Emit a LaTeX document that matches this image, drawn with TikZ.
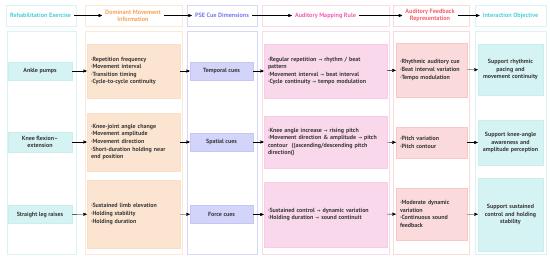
\documentclass[tikz,border=0pt]{standalone}
\usepackage{fontspec}
\setmainfont{PT Sans}
\newfontfamily\arrowfont{DejaVu Sans}
\usepackage{xcolor}
\usepackage{tikz}
\usetikzlibrary{arrows,positioning}

\definecolor{txtgray}{HTML}{3A3A3A}
\definecolor{cyanT}{HTML}{4ECFD7}
\definecolor{cyanF}{HTML}{D6F3F3}
\definecolor{cyanD}{HTML}{C8EEEF}
\definecolor{orangeT}{HTML}{F5A45C}
\definecolor{orangeF}{HTML}{FCE5D0}
\definecolor{orangeD}{HTML}{F9DEC8}
\definecolor{blueT}{HTML}{7C7CF0}
\definecolor{blueF}{HTML}{D3D4F9}
\definecolor{blueD}{HTML}{C4C6F6}
\definecolor{pinkT}{HTML}{F062B4}
\definecolor{pinkF}{HTML}{FAD8EB}
\definecolor{pinkD}{HTML}{F6CDE4}
\definecolor{redT}{HTML}{F2636E}
\definecolor{redF}{HTML}{FADADB}
\definecolor{redD}{HTML}{F6C8CA}

\newcommand{\ra}{{\arrowfont\fontsize{4.5}{6}\selectfont →}}

\begin{document}
\begin{tikzpicture}[x=1pt,y=-1pt,>=stealth',font=\bfseries\fontsize{6}{7.6}\selectfont]
  \tikzstyle{colframe}=[line width=0.5pt]
  \tikzstyle{hdr}=[inner sep=3pt,align=center,font=\bfseries\fontsize{6.2}{7.2}\selectfont]
  \tikzstyle{box}=[draw,line width=0.5pt,inner sep=4pt,text=txtgray]
  \tikzstyle{exbox}=[box,fill=cyanF,draw=cyanD,minimum width=64pt,minimum height=18pt,align=center]
  \tikzstyle{movbox}=[box,fill=orangeF,draw=orangeD,text width=85pt,align=left]
  \tikzstyle{cuebox}=[box,fill=blueF,draw=blueD,minimum width=63pt,minimum height=18pt,align=center]
  \tikzstyle{mapbox}=[box,fill=pinkF,draw=pinkD,text width=115pt,align=left]
  \tikzstyle{fbbox}=[box,fill=redF,draw=redD,text width=63pt,align=left]
  \tikzstyle{objbox}=[box,fill=cyanF,draw=cyanD,text width=57pt,align=center]

  \useasboundingbox (0,0) rectangle (550,261);

  % Frames
  \draw[colframe,draw=cyanD!70]   (6,5) rectangle (76,26);
  \draw[colframe,draw=orangeD!70] (85,5) rectangle (182,26);
  \draw[colframe,draw=blueD!70]   (187,5) rectangle (257,26);
  \draw[colframe,draw=pinkD!70]   (262,5) rectangle (389,26);
  \draw[colframe,draw=redD!70]    (393,5) rectangle (469,26);
  \draw[colframe,draw=cyanD!70]   (475,5) rectangle (546,26);
  \draw[colframe,draw=cyanD!70]   (7,31) rectangle (76,254);
  \draw[colframe,draw=orangeD!70] (85,31) rectangle (182,254);
  \draw[colframe,draw=blueD!70]   (187,31) rectangle (257,254);
  \draw[colframe,draw=pinkD!70]   (262,31) rectangle (389,254);
  \draw[colframe,draw=redD!70]    (393,31) rectangle (469,254);
  \draw[colframe,draw=cyanD!70]   (475,31) rectangle (546,254);

  % Headers
  \node [hdr,text=cyanT]   (hEx)  at (40.5,15.5)  {Rehabilitation Exercise};
  \node [hdr,text=orangeT] (hMov) at (133,15.5)   {Dominant Movement\\Information};
  \node [hdr,text=blueT]   (hCue) at (222,15.5)   {PSE Cue Dimensions};
  \node [hdr,text=pinkT]   (hMap) at (325.5,15.5) {Auditory Mapping Rule};
  \node [hdr,text=redT]    (hFb)  at (430,15.5)   {Auditory Feedback\\Representation};
  \node [hdr,text=cyanT]   (hObj) at (510.5,15.5) {Interaction Objective};

  % Exercises
  \node [exbox] (ex1) at (40,71)  {Ankle pumps};
  \node [exbox] (ex2) at (40,142) {Knee flexion--\\extension};
  \node [exbox] (ex3) at (40,214.5) {Straight leg raises};

  % Movement information
  \node [movbox,minimum height=54pt] (mov1) at (133.5,71)
    {·Repetition frequency\\·Movement interval\\·Transition timing\\·Cycle-to-cycle continuity};
  \node [movbox,minimum height=58pt] (mov2) at (133.5,142)
    {·Knee-joint angle change\\·Movement amplitude\\·Movement direction\\·Short-duration holding near\\end position};
  \node [movbox,minimum height=68pt] (mov3) at (133.5,214)
    {·Sustained limb elevation\\·Holding stability\\·Holding duration};

  % Cue dimensions
  \node [cuebox] (cue1) at (221.5,71)  {Temporal cues};
  \node [cuebox] (cue2) at (221.5,142) {Spatial cues};
  \node [cuebox] (cue3) at (221.5,214.5) {Force cues};

  % Mapping rules
  \node [mapbox,minimum height=54pt] (map1) at (325.5,71)
    {·Regular repetition \ra{} rhythm / beat\\pattern\\·Movement interval \ra{} beat interval\\·Cycle continuity \ra{} tempo modulation};
  \node [mapbox,minimum height=52pt] (map2) at (325.5,142)
    {·Knee angle increase \ra{} rising pitch\\·Movement direction \& amplitude \ra{} pitch\\contour \ ((ascending/descending pitch\\direction()};
  \node [mapbox,minimum height=65pt] (map3) at (325.5,214.5)
    {·Sustained control \ra{} dynamic variation\\·Holding duration \ra{} sound continuit};

  % Feedback
  \node [fbbox,minimum height=54pt] (fb1) at (431.5,70)
    {·Rhythmic auditory cue\\·Beat interval variation\\·Tempo modulation};
  \node [fbbox,minimum height=31pt] (fb2) at (431.5,142.5)
    {·Pitch variation\\·Pitch contour};
  \node [fbbox,minimum height=52pt] (fb3) at (431.5,214)
    {·Moderate dynamic\\variation\\·Continuous sound\\feedback};

  % Objectives
  \node [objbox,minimum height=51pt] (obj1) at (510.5,69.5)
    {Support rhythmic\\pacing and\\movement continuity};
  \node [objbox,minimum height=45pt] (obj2) at (510.5,142.5)
    {Support knee-angle\\awareness and\\amplitude perception};
  \node [objbox,minimum height=73pt] (obj3) at (510.5,214.5)
    {Support sustained\\control and holding\\stability};

  % Arrows
  \draw [->] (hEx) -- (hMov);
  \draw [->] (hMov) -- (hCue);
  \draw [->] (hCue) -- (hMap);
  \draw [->] (hMap) -- (hFb);
  \draw [->] (hFb) -- (hObj);
  \foreach \i in {1,2,3} {
    \draw [->] (ex\i) -- (mov\i);
    \draw [->] (mov\i) -- (cue\i);
    \draw [->] (cue\i) -- (map\i);
    \draw [->] (map\i) -- (fb\i);
    \draw [->] (fb\i) -- (obj\i);
  }
\end{tikzpicture}
\end{document}
